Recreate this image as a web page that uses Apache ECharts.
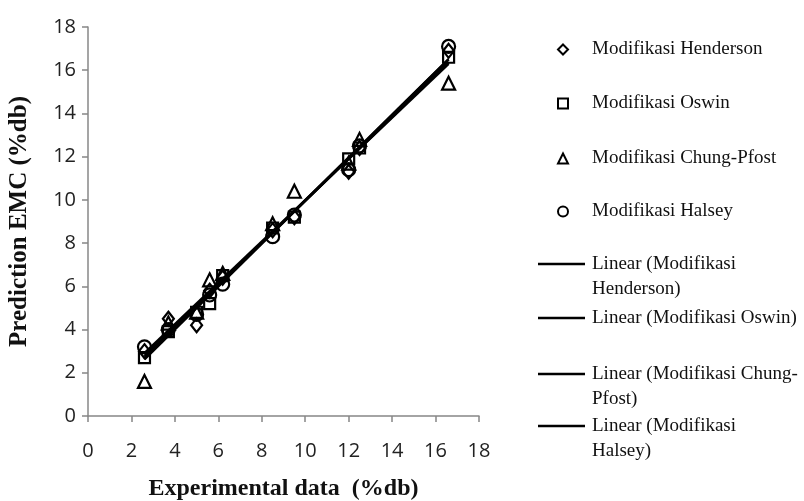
<!DOCTYPE html>
<html>
<head>
<meta charset="utf-8">
<script src="https://cdn.jsdelivr.net/npm/echarts@6/dist/echarts.min.js"></script>
<style>html,body{margin:0;padding:0;background:#fff}#c{width:804px;height:501px}</style>
</head>
<body>
<div id="c"></div>
<script>
// Experimental data (%db) - x values of the measured points
const experimental = [2.6, 3.7, 5.0, 5.6, 6.2, 8.5, 9.5, 12.0, 12.5, 16.6];
// Predicted EMC (%db) for each model
const henderson = [3.0, 4.5, 4.2, 5.8, 6.4, 8.6, 9.2, 11.3, 12.4, 16.9];
const oswin     = [2.7, 3.9, 4.8, 5.2, 6.5, 8.7, 9.2, 11.9, 12.4, 16.6];
const chungPfost= [1.6, 4.3, 4.8, 6.3, 6.6, 8.9, 10.4, 11.7, 12.8, 15.4];
const halsey    = [3.2, 4.0, 4.7, 5.6, 6.1, 8.3, 9.3, 11.4, 12.5, 17.1];
const modelNames = ['Modifikasi Henderson', 'Modifikasi Oswin', 'Modifikasi Chung-Pfost', 'Modifikasi Halsey'];
const axisTicks = [0, 2, 4, 6, 8, 10, 12, 14, 16, 18];

const modelValues = [henderson, oswin, chungPfost, halsey];
const symbols = ['diamond', 'rect', 'triangle', 'circle'];
const symbolSizes = [[11, 14], 11, 13, 13];

function pairs(ys) { return experimental.map((x, i) => [x, ys[i]]); }
function trend(ys) {
  const n = experimental.length;
  let sx = 0, sy = 0, sxx = 0, sxy = 0;
  for (let i = 0; i < n; i++) { const x = experimental[i], y = ys[i]; sx += x; sy += y; sxx += x * x; sxy += x * y; }
  const b = (n * sxy - sx * sy) / (n * sxx - sx * sx);
  const a = (sy - b * sx) / n;
  const x0 = Math.min(...experimental), x1 = Math.max(...experimental);
  return [[x0, a + b * x0], [x1, a + b * x1]];
}

const serif = 'Liberation Serif';
const legendFont = 19;
const series = [];
const legends = [];
const markerLegendY = [48, 102, 157, 210];
modelNames.forEach((name, i) => {
  series.push({
    name: name, type: 'scatter', data: pairs(modelValues[i]),
    symbol: symbols[i], symbolSize: symbolSizes[i], z: 3,
    itemStyle: { color: 'rgba(0,0,0,0)', borderColor: '#000', borderWidth: 2.2, opacity: 1 }
  });
  legends.push({
    data: [name], left: 552, top: markerLegendY[i] - 16, itemWidth: 10, itemHeight: 10,
    selectedMode: false,
    itemStyle: { color: 'rgba(0,0,0,0)', borderColor: '#000', borderWidth: 2 },
    textStyle: { fontFamily: serif, fontSize: legendFont, color: '#111', lineHeight: 25, padding: [0, 0, 0, 19] }
  });
});
const lineLegend = [
  { y: 263, label: ' \nLinear (Modifikasi\nHenderson)' },
  { y: 317, label: 'Linear (Modifikasi Oswin)' },
  { y: 373, label: ' \nLinear (Modifikasi Chung-\nPfost)' },
  { y: 426, label: ' \nLinear (Modifikasi\nHalsey)' }
];
modelNames.forEach((name, i) => {
  const lname = 'Linear (' + name + ')';
  series.push({
    name: lname, type: 'line', data: trend(modelValues[i]), symbol: 'none', z: 2,
    lineStyle: { color: '#000', width: 2.5 }, itemStyle: { color: '#000' }
  });
  const three = lineLegend[i].label.indexOf('\n') >= 0;
  const dy = i === 3 ? -5 : -4;
  legends.push({
    data: [{ name: lname, icon: 'rect' }], left: 533, top: (three ? lineLegend[i].y - 37.5 : lineLegend[i].y - 12.5) + dy,
    itemWidth: 47, itemHeight: 2.5, selectedMode: false,
    itemStyle: { color: '#000', borderWidth: 0 },
    lineStyle: { width: 0 },
    formatter: () => lineLegend[i].label,
    textStyle: { fontFamily: serif, fontSize: legendFont, color: '#111', lineHeight: 25, padding: [0, 0, 0, 2] }
  });
});

const axisCommon = {
  type: 'value', min: 0, max: 18, interval: 2,
  axisLine: { show: true, lineStyle: { color: '#878787', width: 1.5 } },
  axisTick: { show: true, inside: false, length: 6, lineStyle: { color: '#878787', width: 1.5 } },
  splitLine: { show: false },
  nameLocation: 'middle'
};

const chart = echarts.init(document.getElementById('c'), null, { renderer: 'canvas' });
chart.setOption({
  animation: false,
  backgroundColor: '#fff',
  grid: { left: 88, right: 325, top: 27, bottom: 85, containLabel: false, outerBoundsMode: 'none' },
  xAxis: Object.assign({}, axisCommon, {
    name: 'Experimental data  (%db)', nameGap: 61,
    nameTextStyle: { fontFamily: serif, fontWeight: 'bold', fontSize: 24, color: '#111' },
    axisLabel: { fontFamily: 'Open Sans', fontSize: 20, color: '#222', margin: 25,
      formatter: v => axisTicks.indexOf(v) >= 0 ? String(v) : '' }
  }),
  yAxis: Object.assign({}, axisCommon, {
    name: 'Prediction EMC (%db)', nameGap: 56,
    nameTextStyle: { fontFamily: serif, fontWeight: 'bold', fontSize: 25, color: '#111' },
    axisLabel: { fontFamily: 'Open Sans', fontSize: 20, color: '#222', margin: 12,
      formatter: v => axisTicks.indexOf(v) >= 0 ? String(v) : '' }
  }),
  legend: legends,
  series: series
});
</script>
</body>
</html>
